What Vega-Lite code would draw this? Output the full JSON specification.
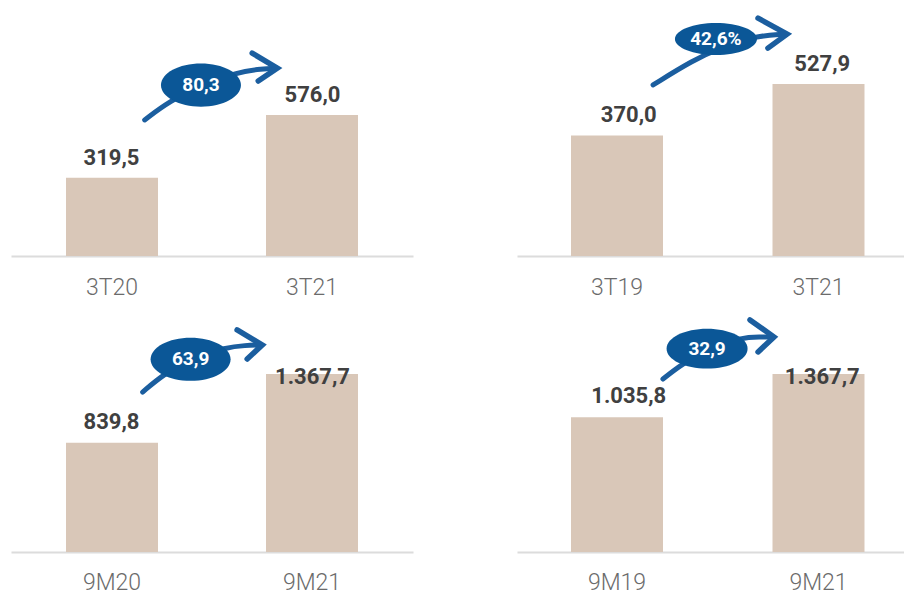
{
  "$schema": "https://vega.github.io/schema/vega-lite/v6.json",
  "padding": {"left": 11, "top": 0, "right": 0, "bottom": 0},
  "background": "white",
  "config": {"view": {"stroke": null}, "font": "Roboto"},
  "datasets": {
    "bars": [
      {"panel": "TL", "period": "3T20", "value": 319.5, "label": "319,5"},
      {"panel": "TL", "period": "3T21", "value": 576.0, "label": "576,0"},
      {"panel": "TR", "period": "3T19", "value": 370.0, "label": "370,0"},
      {"panel": "TR", "period": "3T21", "value": 527.9, "label": "527,9"},
      {"panel": "BL", "period": "9M20", "value": 839.8, "label": "839,8"},
      {"panel": "BL", "period": "9M21", "value": 1367.7, "label": "1.367,7"},
      {"panel": "BR", "period": "9M19", "value": 1035.8, "label": "1.035,8"},
      {"panel": "BR", "period": "9M21", "value": 1367.7, "label": "1.367,7"}
    ],
    "badges": [
      {"panel": "TL", "u": 0.445, "v": 698.5, "text": "80,3"},
      {"panel": "TR", "u": 0.491, "v": 666, "text": "42,6%"},
      {"panel": "BL", "u": 0.3935, "v": 1481, "text": "63,9"},
      {"panel": "BR", "u": 0.447, "v": 1562, "text": "32,9"}
    ],
    "shafts": [
      {"panel": "TL", "seq": 1, "u": 0.165, "v": 556},
      {"panel": "TL", "seq": 2, "u": 0.29, "v": 633},
      {"panel": "TL", "seq": 3, "u": 0.44, "v": 694},
      {"panel": "TL", "seq": 4, "u": 0.625, "v": 752},
      {"panel": "TL", "seq": 5, "u": 0.75, "v": 764},
      {"panel": "TL", "seq": 6, "u": 0.82, "v": 768},
      {"panel": "TR", "seq": 1, "u": 0.179, "v": 525},
      {"panel": "TR", "seq": 2, "u": 0.377, "v": 601},
      {"panel": "TR", "seq": 3, "u": 0.511, "v": 638},
      {"panel": "TR", "seq": 4, "u": 0.675, "v": 672},
      {"panel": "TR", "seq": 5, "u": 0.759, "v": 678},
      {"panel": "TR", "seq": 6, "u": 0.834, "v": 681},
      {"panel": "BL", "seq": 1, "u": 0.155, "v": 1229},
      {"panel": "BL", "seq": 2, "u": 0.255, "v": 1360},
      {"panel": "BL", "seq": 3, "u": 0.39, "v": 1483},
      {"panel": "BL", "seq": 4, "u": 0.575, "v": 1575},
      {"panel": "BL", "seq": 5, "u": 0.665, "v": 1587},
      {"panel": "BL", "seq": 6, "u": 0.745, "v": 1591},
      {"panel": "BR", "seq": 1, "u": 0.228, "v": 1329},
      {"panel": "BR", "seq": 2, "u": 0.323, "v": 1445},
      {"panel": "BR", "seq": 3, "u": 0.447, "v": 1552},
      {"panel": "BR", "seq": 4, "u": 0.62, "v": 1652},
      {"panel": "BR", "seq": 5, "u": 0.71, "v": 1652},
      {"panel": "BR", "seq": 6, "u": 0.774, "v": 1652}
    ],
    "heads": [
      {"panel": "TL", "seq": 1, "u": 0.70, "v": 829},
      {"panel": "TL", "seq": 2, "u": 0.825, "v": 768},
      {"panel": "TL", "seq": 3, "u": 0.73, "v": 715},
      {"panel": "TR", "seq": 1, "u": 0.70, "v": 730},
      {"panel": "TR", "seq": 2, "u": 0.844, "v": 681},
      {"panel": "TR", "seq": 3, "u": 0.749, "v": 638},
      {"panel": "BL", "seq": 1, "u": 0.625, "v": 1706},
      {"panel": "BL", "seq": 2, "u": 0.75, "v": 1591},
      {"panel": "BL", "seq": 3, "u": 0.675, "v": 1483},
      {"panel": "BR", "seq": 1, "u": 0.66, "v": 1783},
      {"panel": "BR", "seq": 2, "u": 0.779, "v": 1652},
      {"panel": "BR", "seq": 3, "u": 0.70, "v": 1537}
    ]
  },
  "spacing": 9,
  "vconcat": [
    {
      "spacing": 104,
      "hconcat": [
        {
          "width": 402, "height": 256,
          "resolve": {"scale": {"x": "independent", "y": "independent"}},
          "layer": [
            {
              "data": {"name": "bars"}, "transform": [{"filter": "datum.panel === 'TL'"}],
              "mark": {"type": "bar", "color": "#d9c7b8"},
              "encoding": {
                "x": {"field": "period", "type": "nominal", "sort": null, "scale": {"paddingInner": 0.54, "paddingOuter": 0.275},
                  "axis": {"title": null, "ticks": false, "tickSize": 0, "labelPadding": 20, "labelFontSize": 23, "labelFont": "Roboto", "labelFontWeight": 300, "labelColor": "#6b6b6b", "labelAngle": 0, "domainColor": "#dcdcdc", "domainWidth": 2, "grid": false}},
                "y": {"field": "value", "type": "quantitative", "scale": {"domain": [0, 1046], "nice": false}, "axis": null}
              }
            },
            {
              "data": {"name": "bars"}, "transform": [{"filter": "datum.panel === 'TL'"}],
              "mark": {"type": "text", "dy": -13, "baseline": "alphabetic", "fontSize": 22, "fontWeight": "bold", "color": "#404040", "font": "Roboto"},
              "encoding": {
                "x": {"field": "period", "type": "nominal", "sort": null, "scale": {"paddingInner": 0.54, "paddingOuter": 0.275}, "axis": null},
                "y": {"field": "value", "type": "quantitative", "scale": {"domain": [0, 1046], "nice": false}, "axis": null},
                "text": {"field": "label"}
              }
            },
            {
              "data": {"name": "shafts"}, "transform": [{"filter": "datum.panel === 'TL'"}],
              "mark": {"type": "line", "interpolate": "basis", "color": "#1b5e9f", "strokeWidth": 5, "strokeCap": "round"},
              "encoding": {
                "x": {"field": "u", "type": "quantitative", "scale": {"domain": [-0.5, 1.5], "nice": false, "zero": false}, "axis": null},
                "y": {"field": "v", "type": "quantitative", "scale": {"domain": [0, 1046], "nice": false}, "axis": null},
                "order": {"field": "seq"}
              }
            },
            {
              "data": {"name": "heads"}, "transform": [{"filter": "datum.panel === 'TL'"}],
              "mark": {"type": "line", "color": "#1b5e9f", "strokeWidth": 5.5, "strokeCap": "round", "strokeJoin": "miter"},
              "encoding": {
                "x": {"field": "u", "type": "quantitative", "scale": {"domain": [-0.5, 1.5], "nice": false, "zero": false}, "axis": null},
                "y": {"field": "v", "type": "quantitative", "scale": {"domain": [0, 1046], "nice": false}, "axis": null},
                "order": {"field": "seq"}
              }
            },
            {
              "data": {"name": "badges"}, "transform": [{"filter": "datum.panel === 'TL'"}],
              "mark": {"type": "point", "filled": true, "opacity": 1, "color": "#0b5797", "size": 6400, "shape": "M-1,0C-1,-0.298,-0.552,-0.54,0,-0.54C0.552,-0.54,1,-0.298,1,0C1,0.298,0.552,0.54,0,0.54C-0.552,0.54,-1,0.298,-1,0Z"},
              "encoding": {
                "x": {"field": "u", "type": "quantitative", "scale": {"domain": [-0.5, 1.5], "nice": false, "zero": false}, "axis": null},
                "y": {"field": "v", "type": "quantitative", "scale": {"domain": [0, 1046], "nice": false}, "axis": null}
              }
            },
            {
              "data": {"name": "badges"}, "transform": [{"filter": "datum.panel === 'TL'"}],
              "mark": {"type": "text", "color": "white", "fontSize": 19, "fontWeight": "bold", "baseline": "middle", "align": "center", "font": "Roboto"},
              "encoding": {
                "x": {"field": "u", "type": "quantitative", "scale": {"domain": [-0.5, 1.5], "nice": false, "zero": false}, "axis": null},
                "y": {"field": "v", "type": "quantitative", "scale": {"domain": [0, 1046], "nice": false}, "axis": null},
                "text": {"field": "text"}
              }
            }
          ]
        },
        {
          "width": 387, "height": 256,
          "resolve": {"scale": {"x": "independent", "y": "independent"}},
          "layer": [
            {
              "data": {"name": "bars"}, "transform": [{"filter": "datum.panel === 'TR'"}],
              "mark": {"type": "bar", "color": "#d9c7b8"},
              "encoding": {
                "x": {"field": "period", "type": "nominal", "sort": null, "scale": {"paddingInner": 0.5434, "paddingOuter": 0.232, "align": 0.5775},
                  "axis": {"title": null, "ticks": false, "tickSize": 0, "labelPadding": 20, "labelFontSize": 23, "labelFont": "Roboto", "labelFontWeight": 300, "labelColor": "#6b6b6b", "labelAngle": 0, "domainColor": "#dcdcdc", "domainWidth": 2, "grid": false}},
                "y": {"field": "value", "type": "quantitative", "scale": {"domain": [0, 785.7], "nice": false}, "axis": null}
              }
            },
            {
              "data": {"name": "bars"}, "transform": [{"filter": "datum.panel === 'TR'"}],
              "mark": {"type": "text", "dy": -13, "baseline": "alphabetic", "fontSize": 22, "fontWeight": "bold", "color": "#404040", "font": "Roboto"},
              "encoding": {
                "x": {"field": "period", "type": "nominal", "sort": null, "scale": {"paddingInner": 0.5434, "paddingOuter": 0.232, "align": 0.5775}, "axis": null},
                "y": {"field": "value", "type": "quantitative", "scale": {"domain": [0, 785.7], "nice": false}, "axis": null},
                "text": {"field": "label"}
              }
            },
            {
              "data": {"name": "shafts"}, "transform": [{"filter": "datum.panel === 'TR'"}],
              "mark": {"type": "line", "interpolate": "basis", "color": "#1b5e9f", "strokeWidth": 5, "strokeCap": "round"},
              "encoding": {
                "x": {"field": "u", "type": "quantitative", "scale": {"domain": [-0.4963, 1.4243], "nice": false, "zero": false}, "axis": null},
                "y": {"field": "v", "type": "quantitative", "scale": {"domain": [0, 785.7], "nice": false}, "axis": null},
                "order": {"field": "seq"}
              }
            },
            {
              "data": {"name": "heads"}, "transform": [{"filter": "datum.panel === 'TR'"}],
              "mark": {"type": "line", "color": "#1b5e9f", "strokeWidth": 5.5, "strokeCap": "round", "strokeJoin": "miter"},
              "encoding": {
                "x": {"field": "u", "type": "quantitative", "scale": {"domain": [-0.4963, 1.4243], "nice": false, "zero": false}, "axis": null},
                "y": {"field": "v", "type": "quantitative", "scale": {"domain": [0, 785.7], "nice": false}, "axis": null},
                "order": {"field": "seq"}
              }
            },
            {
              "data": {"name": "badges"}, "transform": [{"filter": "datum.panel === 'TR'"}],
              "mark": {"type": "point", "filled": true, "opacity": 1, "color": "#0b5797", "size": 6724, "shape": "M-1,0C-1,-0.215,-0.552,-0.39,0,-0.39C0.552,-0.39,1,-0.215,1,0C1,0.215,0.552,0.39,0,0.39C-0.552,0.39,-1,0.215,-1,0Z"},
              "encoding": {
                "x": {"field": "u", "type": "quantitative", "scale": {"domain": [-0.4963, 1.4243], "nice": false, "zero": false}, "axis": null},
                "y": {"field": "v", "type": "quantitative", "scale": {"domain": [0, 785.7], "nice": false}, "axis": null}
              }
            },
            {
              "data": {"name": "badges"}, "transform": [{"filter": "datum.panel === 'TR'"}],
              "mark": {"type": "text", "color": "white", "fontSize": 19, "fontWeight": "bold", "baseline": "middle", "align": "center", "font": "Roboto"},
              "encoding": {
                "x": {"field": "u", "type": "quantitative", "scale": {"domain": [-0.4963, 1.4243], "nice": false, "zero": false}, "axis": null},
                "y": {"field": "v", "type": "quantitative", "scale": {"domain": [0, 785.7], "nice": false}, "axis": null},
                "text": {"field": "text"}
              }
            }
          ]
        }
      ]
    },
    {
      "spacing": 104,
      "hconcat": [
        {
          "width": 402, "height": 240,
          "resolve": {"scale": {"x": "independent", "y": "independent"}},
          "layer": [
            {
              "data": {"name": "bars"}, "transform": [{"filter": "datum.panel === 'BL'"}],
              "mark": {"type": "bar", "color": "#d9c7b8"},
              "encoding": {
                "x": {"field": "period", "type": "nominal", "sort": null, "scale": {"paddingInner": 0.54, "paddingOuter": 0.275},
                  "axis": {"title": null, "ticks": false, "tickSize": 0, "labelPadding": 19, "labelFontSize": 23, "labelFont": "Roboto", "labelFontWeight": 300, "labelColor": "#6b6b6b", "labelAngle": 0, "domainColor": "#dcdcdc", "domainWidth": 2, "grid": false}},
                "y": {"field": "value", "type": "quantitative", "scale": {"domain": [0, 1844], "nice": false}, "axis": null}
              }
            },
            {
              "data": {"name": "bars"}, "transform": [{"filter": "datum.panel === 'BL'"}],
              "mark": {"type": "text", "dy": -14, "baseline": "alphabetic", "fontSize": 22, "fontWeight": "bold", "color": "#404040", "font": "Roboto"},
              "encoding": {
                "x": {"field": "period", "type": "nominal", "sort": null, "scale": {"paddingInner": 0.54, "paddingOuter": 0.275}, "axis": null},
                "y": {"field": "value", "type": "quantitative", "scale": {"domain": [0, 1183], "range": [240, 86], "clamp": true, "nice": false}, "axis": null},
                "text": {"field": "label"}
              }
            },
            {
              "data": {"name": "shafts"}, "transform": [{"filter": "datum.panel === 'BL'"}],
              "mark": {"type": "line", "interpolate": "basis", "color": "#1b5e9f", "strokeWidth": 5, "strokeCap": "round"},
              "encoding": {
                "x": {"field": "u", "type": "quantitative", "scale": {"domain": [-0.5, 1.5], "nice": false, "zero": false}, "axis": null},
                "y": {"field": "v", "type": "quantitative", "scale": {"domain": [0, 1844], "nice": false}, "axis": null},
                "order": {"field": "seq"}
              }
            },
            {
              "data": {"name": "heads"}, "transform": [{"filter": "datum.panel === 'BL'"}],
              "mark": {"type": "line", "color": "#1b5e9f", "strokeWidth": 5.5, "strokeCap": "round", "strokeJoin": "miter"},
              "encoding": {
                "x": {"field": "u", "type": "quantitative", "scale": {"domain": [-0.5, 1.5], "nice": false, "zero": false}, "axis": null},
                "y": {"field": "v", "type": "quantitative", "scale": {"domain": [0, 1844], "nice": false}, "axis": null},
                "order": {"field": "seq"}
              }
            },
            {
              "data": {"name": "badges"}, "transform": [{"filter": "datum.panel === 'BL'"}],
              "mark": {"type": "point", "filled": true, "opacity": 1, "color": "#0b5797", "size": 6400, "shape": "M-1,0C-1,-0.298,-0.552,-0.54,0,-0.54C0.552,-0.54,1,-0.298,1,0C1,0.298,0.552,0.54,0,0.54C-0.552,0.54,-1,0.298,-1,0Z"},
              "encoding": {
                "x": {"field": "u", "type": "quantitative", "scale": {"domain": [-0.5, 1.5], "nice": false, "zero": false}, "axis": null},
                "y": {"field": "v", "type": "quantitative", "scale": {"domain": [0, 1844], "nice": false}, "axis": null}
              }
            },
            {
              "data": {"name": "badges"}, "transform": [{"filter": "datum.panel === 'BL'"}],
              "mark": {"type": "text", "color": "white", "fontSize": 19, "fontWeight": "bold", "baseline": "middle", "align": "center", "font": "Roboto"},
              "encoding": {
                "x": {"field": "u", "type": "quantitative", "scale": {"domain": [-0.5, 1.5], "nice": false, "zero": false}, "axis": null},
                "y": {"field": "v", "type": "quantitative", "scale": {"domain": [0, 1844], "nice": false}, "axis": null},
                "text": {"field": "text"}
              }
            }
          ]
        },
        {
          "width": 387, "height": 240,
          "resolve": {"scale": {"x": "independent", "y": "independent"}},
          "layer": [
            {
              "data": {"name": "bars"}, "transform": [{"filter": "datum.panel === 'BR'"}],
              "mark": {"type": "bar", "color": "#d9c7b8"},
              "encoding": {
                "x": {"field": "period", "type": "nominal", "sort": null, "scale": {"paddingInner": 0.5434, "paddingOuter": 0.232, "align": 0.5775},
                  "axis": {"title": null, "ticks": false, "tickSize": 0, "labelPadding": 19, "labelFontSize": 23, "labelFont": "Roboto", "labelFontWeight": 300, "labelColor": "#6b6b6b", "labelAngle": 0, "domainColor": "#dcdcdc", "domainWidth": 2, "grid": false}},
                "y": {"field": "value", "type": "quantitative", "scale": {"domain": [0, 1844], "nice": false}, "axis": null}
              }
            },
            {
              "data": {"name": "bars"}, "transform": [{"filter": "datum.panel === 'BR'"}],
              "mark": {"type": "text", "dy": -14, "baseline": "alphabetic", "fontSize": 22, "fontWeight": "bold", "color": "#404040", "font": "Roboto"},
              "encoding": {
                "x": {"field": "period", "type": "nominal", "sort": null, "scale": {"paddingInner": 0.5434, "paddingOuter": 0.232, "align": 0.5775}, "axis": null},
                "y": {"field": "value", "type": "quantitative", "scale": {"domain": [0, 1183], "range": [240, 86], "clamp": true, "nice": false}, "axis": null},
                "text": {"field": "label"}
              }
            },
            {
              "data": {"name": "shafts"}, "transform": [{"filter": "datum.panel === 'BR'"}],
              "mark": {"type": "line", "interpolate": "basis", "color": "#1b5e9f", "strokeWidth": 5, "strokeCap": "round"},
              "encoding": {
                "x": {"field": "u", "type": "quantitative", "scale": {"domain": [-0.4963, 1.4243], "nice": false, "zero": false}, "axis": null},
                "y": {"field": "v", "type": "quantitative", "scale": {"domain": [0, 1844], "nice": false}, "axis": null},
                "order": {"field": "seq"}
              }
            },
            {
              "data": {"name": "heads"}, "transform": [{"filter": "datum.panel === 'BR'"}],
              "mark": {"type": "line", "color": "#1b5e9f", "strokeWidth": 5.5, "strokeCap": "round", "strokeJoin": "miter"},
              "encoding": {
                "x": {"field": "u", "type": "quantitative", "scale": {"domain": [-0.4963, 1.4243], "nice": false, "zero": false}, "axis": null},
                "y": {"field": "v", "type": "quantitative", "scale": {"domain": [0, 1844], "nice": false}, "axis": null},
                "order": {"field": "seq"}
              }
            },
            {
              "data": {"name": "badges"}, "transform": [{"filter": "datum.panel === 'BR'"}],
              "mark": {"type": "point", "filled": true, "opacity": 1, "color": "#0b5797", "size": 6561, "shape": "M-1,0C-1,-0.271,-0.552,-0.49,0,-0.49C0.552,-0.49,1,-0.271,1,0C1,0.271,0.552,0.49,0,0.49C-0.552,0.49,-1,0.271,-1,0Z"},
              "encoding": {
                "x": {"field": "u", "type": "quantitative", "scale": {"domain": [-0.4963, 1.4243], "nice": false, "zero": false}, "axis": null},
                "y": {"field": "v", "type": "quantitative", "scale": {"domain": [0, 1844], "nice": false}, "axis": null}
              }
            },
            {
              "data": {"name": "badges"}, "transform": [{"filter": "datum.panel === 'BR'"}],
              "mark": {"type": "text", "color": "white", "fontSize": 19, "fontWeight": "bold", "baseline": "middle", "align": "center", "font": "Roboto"},
              "encoding": {
                "x": {"field": "u", "type": "quantitative", "scale": {"domain": [-0.4963, 1.4243], "nice": false, "zero": false}, "axis": null},
                "y": {"field": "v", "type": "quantitative", "scale": {"domain": [0, 1844], "nice": false}, "axis": null},
                "text": {"field": "text"}
              }
            }
          ]
        }
      ]
    }
  ]
}
